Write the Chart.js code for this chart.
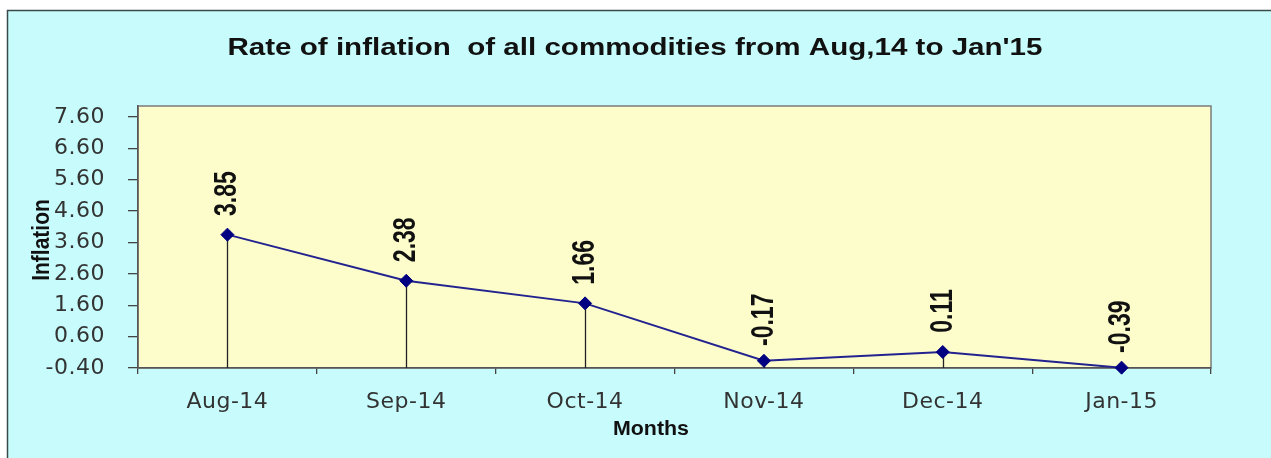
<!DOCTYPE html>
<html>
<head>
<meta charset="utf-8">
<script src="https://cdn.jsdelivr.net/npm/chart.js@4.4.1/dist/chart.umd.min.js"></script>
<style>
  html, body { margin: 0; padding: 0; background: #ffffff; overflow: hidden; }
  #wrap { width: 1271px; height: 458px; position: relative; }
  canvas { display: block; }
</style>
</head>
<body>
<div id="wrap"><canvas id="c" width="1271" height="458"></canvas></div>
<script>
// ---- Data ----
const months = ['Aug-14', 'Sep-14', 'Oct-14', 'Nov-14', 'Dec-14', 'Jan-15'];
const inflation = [3.85, 2.38, 1.66, -0.17, 0.11, -0.39];
const yTickValues = [-0.40, 0.60, 1.60, 2.60, 3.60, 4.60, 5.60, 6.60, 7.60];
const yMin = -0.40;
const yMax = 7.95;
const chartTitle = "Rate of inflation  of all commodities from Aug,14 to Jan'15";
const yTitle = 'Inflation';
const xTitle = 'Months';

const CYAN = '#c8fcfc';
const PLOT_BG = '#fdfdcc';

const decorPlugin = {
  id: 'decor',
  beforeUpdate(chart) { chart.ctx.letterSpacing = '0.5px'; },
  beforeDraw(chart) {
    const ctx = chart.ctx;
    const a = chart.chartArea;
    ctx.save();
    ctx.letterSpacing = '0px';
    ctx.fillStyle = '#ffffff';
    ctx.fillRect(0, 0, chart.width, chart.height);
    ctx.fillStyle = CYAN;
    ctx.fillRect(7, 10, chart.width, chart.height);
    ctx.strokeStyle = '#3a4a4a';
    ctx.lineWidth = 1.5;
    ctx.beginPath();
    ctx.moveTo(7.5, chart.height + 2);
    ctx.lineTo(7.5, 10.5);
    ctx.lineTo(chart.width + 2, 10.5);
    ctx.stroke();
    // plot area
    ctx.fillStyle = PLOT_BG;
    ctx.fillRect(a.left, a.top, a.right - a.left, a.bottom - a.top);
    ctx.strokeStyle = '#7a7a7a';
    ctx.lineWidth = 1.5;
    ctx.strokeRect(a.left, a.top, a.right - a.left, a.bottom - a.top);
    // title
    ctx.fillStyle = '#111111';
    ctx.font = 'bold 23px "Liberation Sans", Arial, sans-serif';
    ctx.textAlign = 'center';
    ctx.textBaseline = 'alphabetic';
    const tw = ctx.measureText(chartTitle).width;
    const sx = 815 / tw;
    ctx.save();
    ctx.translate(635, 55);
    ctx.scale(sx, 1);
    ctx.fillText(chartTitle, 0, 0);
    ctx.restore();
    // x title
    ctx.font = 'bold 21px "Liberation Sans", Arial, sans-serif';
    const mw = ctx.measureText(xTitle).width;
    ctx.save();
    ctx.translate(651, 435);
    ctx.scale(76 / mw, 1);
    ctx.fillText(xTitle, 0, 0);
    ctx.restore();
    ctx.restore();
  },
  beforeDatasetsDraw(chart) {
    const ctx = chart.ctx;
    const a = chart.chartArea;
    const meta = chart.getDatasetMeta(0);
    ctx.save();
    ctx.strokeStyle = '#222222';
    ctx.lineWidth = 1.3;
    meta.data.forEach(p => {
      const x = Math.round(p.x) + 0.5;
      ctx.beginPath();
      ctx.moveTo(x, p.y);
      ctx.lineTo(x, a.bottom);
      ctx.stroke();
    });
    ctx.restore();
  },
  afterDraw(chart) {
    const ctx = chart.ctx;
    const meta = chart.getDatasetMeta(0);
    ctx.save();
    ctx.letterSpacing = '0px';
    ctx.fillStyle = '#111111';
    ctx.textAlign = 'center';
    ctx.textBaseline = 'middle';
    ctx.font = 'bold 23px "Liberation Sans", Arial, sans-serif';
    meta.data.forEach((p, i) => {
      const txt = inflation[i].toFixed(2);
      ctx.save();
      ctx.translate(p.x, p.y - 41);
      ctx.rotate(-Math.PI / 2);
      ctx.scale(1, 1.4);
      ctx.fillText(txt, 0, 0);
      ctx.restore();
    });
    // y title
    ctx.font = 'bold 21px "Liberation Sans", Arial, sans-serif';
    ctx.save();
    ctx.translate(42, 240);
    ctx.rotate(-Math.PI / 2);
    ctx.scale(1, 1.15);
    ctx.fillText(yTitle, 0, 0);
    ctx.restore();
    ctx.restore();
  }
};

new Chart(document.getElementById('c'), {
  type: 'line',
  data: {
    labels: months,
    datasets: [{
      data: inflation,
      borderColor: '#23238f',
      borderWidth: 2,
      backgroundColor: '#000080',
      pointBackgroundColor: '#000080',
      pointBorderColor: '#000080',
      pointStyle: 'rectRot',
      pointRadius: 6.5,
      pointBorderWidth: 1,
      tension: 0,
      fill: false,
      clip: false
    }]
  },
  options: {
    responsive: false,
    animation: false,
    events: [],
    layout: { padding: { left: 0, right: 60, top: 106, bottom: 0 } },
    plugins: { legend: { display: false }, title: { display: false }, tooltip: { enabled: false } },
    scales: {
      x: {
        type: 'category',
        offset: true,
        grid: { display: true, offset: true, drawOnChartArea: false, drawTicks: true, tickLength: 6, color: '#444444', lineWidth: 1.3 },
        border: { display: true, color: '#555555', width: 1.5 },
        ticks: { color: '#333333', font: { family: '"DejaVu Sans", sans-serif', size: 22 }, padding: 15, maxRotation: 0, autoSkip: false },
        afterFit(scale) { scale.height = 90; }
      },
      y: {
        type: 'linear',
        min: yMin,
        max: yMax,
        grid: { display: true, drawOnChartArea: false, drawTicks: true, tickLength: 10, color: '#444444', lineWidth: 1.3 },
        border: { display: true, color: '#555555', width: 1.5 },
        ticks: { color: '#333333', font: { family: '"DejaVu Sans", sans-serif', size: 22 }, padding: 23,
                 callback: v => Number(v).toFixed(2) },
        afterBuildTicks(scale) { scale.ticks = yTickValues.map(v => ({ value: v })); },
        afterFit(scale) { scale.width = 138; }
      }
    }
  },
  plugins: [decorPlugin]
});
</script>
</body>
</html>
